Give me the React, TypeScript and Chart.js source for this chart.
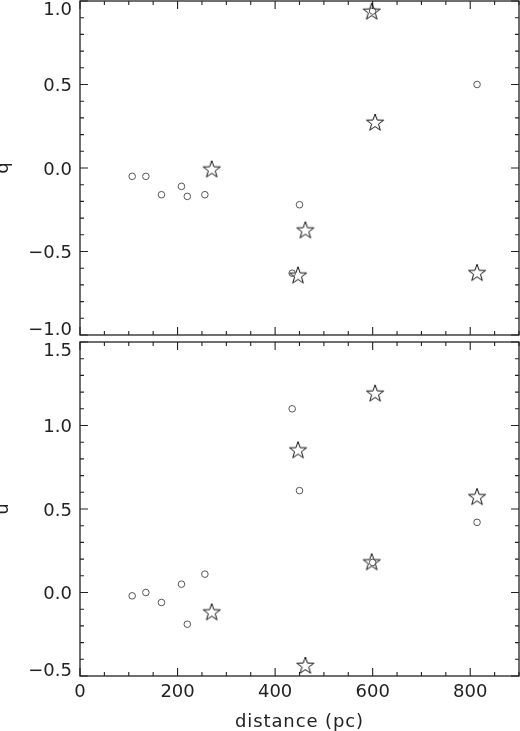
import React, { useEffect, useRef } from 'react';
import Chart from 'chart.js/auto';

// distance (pc) of the open-circle sources and the star sources
const distCircle = [107, 135, 167, 208, 220, 256, 435, 450, 600, 814];
const qCircle = [-0.05, -0.05, -0.16, -0.11, -0.17, -0.16, -0.63, -0.22, 0.94, 0.5];
const uCircle = [-0.02, 0.0, -0.06, 0.05, -0.19, 0.11, 1.1, 0.61, 0.18, 0.42];

const distStar = [270, 447, 462, 598, 605, 814];
const qStar = [-0.01, -0.645, -0.375, 0.935, 0.27, -0.63];
const uStar = [-0.12, 0.85, -0.44, 0.18, 1.19, 0.57];

const xTicks = [0, 200, 400, 600, 800];
const qTicks = [-1.0, -0.5, 0.0, 0.5, 1.0];
const uTicks = [-0.5, 0.0, 0.5, 1.0, 1.5];

const FONT = '18px "DejaVu Sans", sans-serif';
const INK = '#222';

const fmt = (v: number, dec: number) => {
  const s = Math.abs(v).toFixed(dec);
  return v < 0 ? '\u2212' + s : s;
};

function makeStar(): HTMLCanvasElement {
  const c = document.createElement('canvas');
  c.width = 22;
  c.height = 22;
  const ctx = c.getContext('2d')!;
  const R = 9;
  const r = 3.6;
  ctx.beginPath();
  for (let i = 0; i < 10; i++) {
    const rad = i % 2 === 0 ? R : r;
    const a = -Math.PI / 2 + (i * Math.PI) / 5;
    const px = 11 + rad * Math.cos(a);
    const py = 11 + rad * Math.sin(a);
    if (i === 0) ctx.moveTo(px, py);
    else ctx.lineTo(px, py);
  }
  ctx.closePath();
  ctx.strokeStyle = '#111';
  ctx.lineWidth = 1;
  ctx.stroke();
  return c;
}

interface PanelOpts {
  yMin: number;
  yMax: number;
  yTicks: number[];
  yTitle: string;
  showX: boolean;
}

function axesPlugin(p: PanelOpts) {
  return {
    id: 'idlAxes',
    beforeDatasetsDraw(chart: any) {
      const { ctx, chartArea } = chart;
      const xs = chart.scales.x;
      const ys = chart.scales.y;
      const { left, right, top, bottom } = chartArea;
      ctx.save();
      ctx.strokeStyle = INK;
      ctx.lineWidth = 1.3;
      ctx.strokeRect(left, top, right - left, bottom - top);
      ctx.lineWidth = 1.1;
      ctx.beginPath();
      for (let v = 0; v <= 900 + 1e-6; v += 50) {
        const x = xs.getPixelForValue(v);
        const len = Math.abs(v % 200) < 1e-6 ? 8 : 4;
        ctx.moveTo(x, bottom);
        ctx.lineTo(x, bottom - len);
        ctx.moveTo(x, top);
        ctx.lineTo(x, top + len);
      }
      const steps = Math.round((p.yMax - p.yMin) / 0.1);
      for (let i = 0; i <= steps; i++) {
        const v = p.yMin + i * 0.1;
        const y = ys.getPixelForValue(v);
        const len = i % 5 === 0 ? 8 : 4;
        ctx.moveTo(left, y);
        ctx.lineTo(left + len, y);
        ctx.moveTo(right, y);
        ctx.lineTo(right - len, y);
      }
      ctx.stroke();

      ctx.fillStyle = INK;
      ctx.font = FONT;
      ctx.textAlign = 'right';
      ctx.textBaseline = 'alphabetic';
      p.yTicks.forEach((v, i) => {
        const y = ys.getPixelForValue(v);
        let base = y + 6.5;
        if (i === p.yTicks.length - 1) base = y + 13.5;
        if (i === 0) base = y;
        ctx.fillText(fmt(v, 1), left - 8, base);
      });

      ctx.save();
      ctx.translate(3, (top + bottom) / 2);
      ctx.rotate(-Math.PI / 2);
      ctx.textAlign = 'center';
      ctx.textBaseline = 'middle';
      ctx.fillText(p.yTitle, 0, 0);
      ctx.restore();

      if (p.showX) {
        ctx.textAlign = 'center';
        ctx.textBaseline = 'alphabetic';
        xTicks.forEach((v) => {
          ctx.fillText(String(v), xs.getPixelForValue(v), bottom + 21);
        });
        (ctx as any).letterSpacing = '0.9px';
        ctx.fillText('distance (pc)', (left + right) / 2, bottom + 51);
      }
      ctx.restore();
    },
  };
}

function Panel(props: {
  top: number;
  height: number;
  pad: { left: number; right: number; top: number; bottom: number };
  circles: number[];
  stars: number[];
  opts: PanelOpts;
}) {
  const ref = useRef<HTMLCanvasElement>(null);

  useEffect(() => {
    if (!ref.current) return;
    const star = makeStar();
    const chart = new Chart(ref.current, {
      type: 'scatter',
      data: {
        datasets: [
          {
            data: distCircle.map((d, i) => ({ x: d, y: props.circles[i] })),
            pointStyle: 'circle',
            pointRadius: 3.3,
            borderColor: '#555',
            backgroundColor: 'rgba(0,0,0,0)',
            borderWidth: 1,
            clip: false,
          },
          {
            data: distStar.map((d, i) => ({ x: d, y: props.stars[i] })),
            pointStyle: star as any,
            pointRadius: 9,
            clip: false,
          },
        ],
      } as any,
      options: {
        animation: false,
        responsive: false,
        events: [],
        layout: { padding: props.pad, autoPadding: false },
        plugins: { legend: { display: false }, tooltip: { enabled: false } },
        scales: {
          x: { type: 'linear', min: 0, max: 900, display: false },
          y: { type: 'linear', min: props.opts.yMin, max: props.opts.yMax, display: false },
        },
      },
      plugins: [axesPlugin(props.opts)],
    });
    return () => chart.destroy();
  }, []);

  return (
    <canvas
      ref={ref}
      width={520}
      height={props.height}
      style={{ position: 'absolute', left: 0, top: props.top, width: 520, height: props.height }}
    />
  );
}

export default function App() {
  return (
    <div style={{ position: 'fixed', left: 0, top: 0, width: 520, height: 731, background: '#fff' }}>
      <Panel
        top={0}
        height={340}
        pad={{ left: 80, right: 1, top: 1, bottom: 5 }}
        circles={qCircle}
        stars={qStar}
        opts={{ yMin: -1, yMax: 1, yTicks: qTicks, yTitle: 'q', showX: false }}
      />
      <Panel
        top={338}
        height={393}
        pad={{ left: 80, right: 1, top: 4, bottom: 55 }}
        circles={uCircle}
        stars={uStar}
        opts={{ yMin: -0.5, yMax: 1.5, yTicks: uTicks, yTitle: 'u', showX: true }}
      />
    </div>
  );
}
